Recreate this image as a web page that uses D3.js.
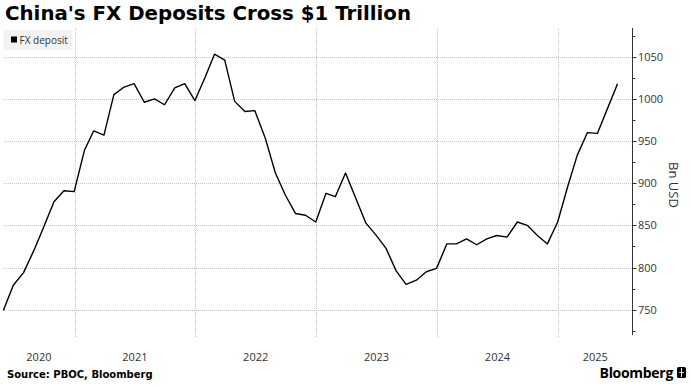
<!DOCTYPE html>
<html>
<head>
<meta charset="utf-8">
<script src="https://cdn.jsdelivr.net/npm/d3@7"></script>
<style>
  body { margin: 0; background: #fff; }
  svg { display: block; }
</style>
</head>
<body>
<svg id="chart" width="692" height="389"></svg>
<script>

// monthly data, month-end values (Bn USD)
var months = [
  "2020-05","2020-06","2020-07","2020-08","2020-09","2020-10","2020-11","2020-12",
  "2021-01","2021-02","2021-03","2021-04","2021-05","2021-06","2021-07","2021-08","2021-09","2021-10","2021-11","2021-12",
  "2022-01","2022-02","2022-03","2022-04","2022-05","2022-06","2022-07","2022-08","2022-09","2022-10","2022-11","2022-12",
  "2023-01","2023-02","2023-03","2023-04","2023-05","2023-06","2023-07","2023-08","2023-09","2023-10","2023-11","2023-12",
  "2024-01","2024-02","2024-03","2024-04","2024-05","2024-06","2024-07","2024-08","2024-09","2024-10","2024-11","2024-12",
  "2025-01","2025-02","2025-03","2025-04","2025-05","2025-06"
];
var fx_deposit = [
  749, 779, 794, 820, 848, 878, 891, 890,
  939, 962, 957, 1005, 1014, 1018, 996, 1000, 993, 1013, 1018, 998,
  1026, 1053, 1046, 997, 985, 986, 954, 912, 886, 864, 862, 854,
  888, 884, 912, 883, 853, 839, 823, 796, 780, 785, 795, 799,
  828, 828, 834, 827, 834, 838, 836, 854, 850, 838, 828, 854,
  897, 933, 960, 959, 989, 1018
];
var yearLabels = ["2020", "2021", "2022", "2023", "2024", "2025"];
var yTicks = [750, 800, 850, 900, 950, 1000, 1050];
var yMinorTicks = [725, 775, 825, 875, 925, 975, 1025, 1075];
//-------------------------------------------------------------------------

var parseMonth = d3.timeParse("%Y-%m");
var data = months.map(function(m, i) {
    // plot at the last day of the month
    var d = d3.timeDay.offset(d3.timeMonth.offset(parseMonth(m), 1), -1);
    return { date: d, value: fx_deposit[i] };
});

var svg = d3.select("#chart");
var plotTop = 28, plotBottom = 335, axisX = 632.5;

var x = d3.scaleTime()
    .domain([new Date(2021, 0, 1), new Date(2025, 0, 1)])
    .range([74.5, 558]);

var y = d3.scaleLinear()
    .domain([720, 1084])
    .range([plotBottom, plotTop]);

var x0 = x(data[0].date);

// title
svg.append("text")
    .attr("x", 5)
    .attr("y", 20)
    .attr("font-family", "DejaVu Sans")
    .attr("font-weight", "bold")
    .attr("font-size", "19.8px")
    .attr("fill", "#000")
    .text("China's FX Deposits Cross $1 Trillion");

// horizontal grid
svg.append("g")
    .selectAll("line")
    .data(yTicks)
    .enter().append("line")
    .attr("x1", 4)
    .attr("x2", axisX)
    .attr("y1", d => Math.round(y(d)) + 0.5)
    .attr("y2", d => Math.round(y(d)) + 0.5)
    .attr("stroke", "#c4c4c4")
    .attr("stroke-width", 1)
    .attr("stroke-dasharray", "1,1");

// vertical grid at year starts
var yearStarts = [2021, 2022, 2023, 2024, 2025].map(yr => new Date(yr, 0, 1));
svg.append("g")
    .selectAll("line")
    .data(yearStarts)
    .enter().append("line")
    .attr("x1", d => Math.round(x(d)) + 0.5)
    .attr("x2", d => Math.round(x(d)) + 0.5)
    .attr("y1", plotTop)
    .attr("y2", plotBottom + 2)
    .attr("stroke", "#c4c4c4")
    .attr("stroke-width", 1)
    .attr("stroke-dasharray", "1,1");

// legend box
var legend = svg.append("g");
legend.append("rect")
    .attr("x", 3.5).attr("y", 30)
    .attr("width", 69).attr("height", 20)
    .attr("fill", "#f3f3f3");
legend.append("rect")
    .attr("x", 11).attr("y", 36.5)
    .attr("width", 6).attr("height", 6)
    .attr("fill", "#000");
legend.append("text")
    .attr("x", 19.5).attr("y", 43.5)
    .attr("font-family", "Open Sans")
    .attr("font-size", "10px")
    .attr("fill", "#333")
    .text("FX deposit");

// y axis on the right
var yAxis = svg.append("g")
    .attr("transform", `translate(${axisX},0)`);
yAxis.append("line")
    .attr("x1", 0).attr("x2", 0)
    .attr("y1", plotTop).attr("y2", plotBottom)
    .attr("stroke", "#333");
yAxis.selectAll(".major")
    .data(yTicks)
    .enter().append("line")
    .attr("class", "major")
    .attr("x1", 0).attr("x2", 4)
    .attr("y1", d => Math.round(y(d)) + 0.5)
    .attr("y2", d => Math.round(y(d)) + 0.5)
    .attr("stroke", "#333");
yAxis.selectAll(".minor")
    .data(yMinorTicks)
    .enter().append("line")
    .attr("class", "minor")
    .attr("x1", 0).attr("x2", 3)
    .attr("y1", d => Math.round(y(d)) + 0.5)
    .attr("y2", d => Math.round(y(d)) + 0.5)
    .attr("stroke", "#333");
yAxis.selectAll("text")
    .data(yTicks)
    .enter().append("text")
    .attr("x", 5.5)
    .attr("y", d => y(d) + 4)
    .attr("font-family", "Open Sans")
    .attr("font-size", "11px")
    .attr("fill", "#333")
    .text(d => d);

// axis title
svg.append("text")
    .attr("transform", "translate(669,185) rotate(90)")
    .attr("text-anchor", "middle")
    .attr("font-family", "Open Sans")
    .attr("font-size", "13px")
    .attr("fill", "#333")
    .text("Bn USD");

// year labels centred on the visible part of each year
svg.append("g")
    .selectAll("text")
    .data(yearLabels)
    .enter().append("text")
    .attr("x", function(d) {
        var a = Math.max(x(new Date(+d, 0, 1)), x0);
        var b = Math.min(x(new Date(+d + 1, 0, 1)), axisX);
        return (a + b) / 2;
    })
    .attr("y", 361)
    .attr("text-anchor", "middle")
    .attr("font-family", "Open Sans")
    .attr("font-size", "11px")
    .attr("fill", "#333")
    .text(d => d);

// the line
var line = d3.line()
    .x(d => x(d.date))
    .y(d => y(d.value));

svg.append("path")
    .datum(data)
    .attr("d", line)
    .attr("fill", "none")
    .attr("stroke", "#000")
    .attr("stroke-width", 1.4)
    .attr("stroke-linejoin", "round");

// footer
svg.append("text")
    .attr("x", 7)
    .attr("y", 378)
    .attr("font-family", "DejaVu Sans")
    .attr("font-weight", "bold")
    .attr("font-size", "10px")
    .attr("fill", "#000")
    .text("Source: PBOC, Bloomberg");

svg.append("text")
    .attr("x", 673)
    .attr("y", 378)
    .attr("text-anchor", "end")
    .attr("font-family", "Open Sans")
    .attr("font-weight", "bold")
    .attr("font-size", "14px")
    .attr("letter-spacing", "-0.3px")
    .attr("fill", "#000")
    .text("Bloomberg");

// little logo mark
var logo = svg.append("g").attr("transform", "translate(677,367)");
logo.append("rect")
    .attr("width", 9).attr("height", 11).attr("rx", 1.5)
    .attr("fill", "#000");
logo.append("line")
    .attr("x1", 4.5).attr("x2", 4.5).attr("y1", 1).attr("y2", 10)
    .attr("stroke", "#fff").attr("stroke-width", 1);
logo.append("line")
    .attr("x1", 2).attr("x2", 7).attr("y1", 5.5).attr("y2", 5.5)
    .attr("stroke", "#fff").attr("stroke-width", 0.8);

</script>
</body>
</html>
